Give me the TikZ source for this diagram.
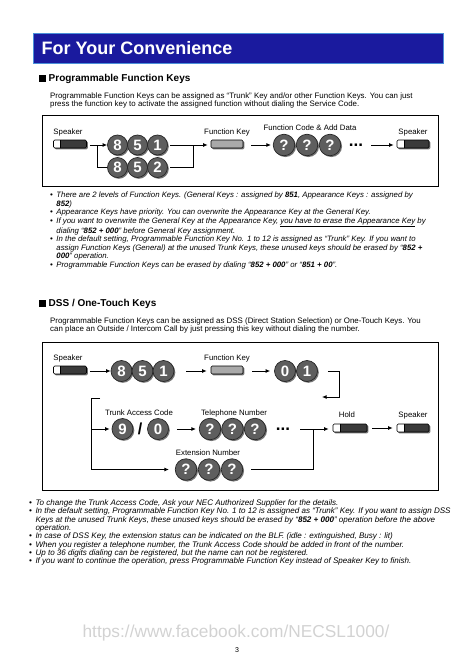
\documentclass[tikz,border=0pt]{standalone}
\usepackage{fontspec}
\setmainfont{Liberation Sans}
\usetikzlibrary{arrows.meta, positioning, shadows, calc}
\definecolor{barblue}{HTML}{1A1A9E}
\definecolor{baredge}{HTML}{4A90D9}
\definecolor{keydark}{HTML}{3A3A3A}
\definecolor{keygray}{HTML}{A9A9A9}
\definecolor{btngray}{HTML}{5E5E5E}
\definecolor{urlgray}{HTML}{D2D2D2}
\begin{document}
\begin{tikzpicture}[x=1pt, y=-1pt,
    every node/.style={inner sep=0pt},
    lbl/.style={font=\fontsize{7.8}{8}\selectfont, anchor=base},
    body/.style={font=\fontsize{7.9}{8.1}\selectfont, align=left, anchor=north west},
    notes/.style={font=\fontsize{7.8}{8.6}\selectfont\itshape, anchor=north west},
    frame/.style={draw, line width=1.1pt, anchor=north west},
    keyshadow/.style={drop shadow={shadow xshift=1.3pt, shadow yshift=-1.3pt,
                      opacity=0.55, fill=black}},
    spkkey/.style={draw, line width=0.6pt, fill=keydark, rounded corners=1.2pt,
                   minimum width=33pt, minimum height=8pt, keyshadow,
                   path picture={\fill[white, sharp corners]
                     (path picture bounding box.south west) rectangle
                     ([xshift=7pt]path picture bounding box.north west);
                     \draw[line width=0.5pt, sharp corners]
                     ([xshift=7pt]path picture bounding box.south west) --
                     ([xshift=7pt]path picture bounding box.north west);}},
    fnkey/.style={draw, line width=0.6pt, fill=keygray, rounded corners=1.2pt,
                  minimum width=32pt, minimum height=8pt, keyshadow},
    digit/.style={circle, draw=black!85, line width=0.7pt, fill=btngray, text=white,
                  font=\fontsize{15}{15}\selectfont\bfseries, minimum size=20pt, keyshadow},
    qdigit/.style={digit, minimum size=21.5pt},
    dots/.style={font=\fontsize{17}{17}\selectfont\bfseries},
    arr/.style={-{Latex[length=4.5pt, width=4pt]}, line width=0.9pt},
    link/.style={line width=0.9pt},
]
\useasboundingbox (0,0) rectangle (474,672);

% Title bar
\node[fill=barblue, draw=baredge, line width=1.5pt, minimum width=410pt,
      minimum height=30pt, anchor=north west] (bar) at (32.5,32.5) {};
\node[font=\fontsize{18}{18}\selectfont\bfseries, text=white, anchor=west]
    (title) at ([xshift=9pt]bar.west) {For Your Convenience};

% Programmable Function Keys
\node[font=\fontsize{10}{10}\selectfont\bfseries, anchor=base west] (head1)
    at (39,81.5) {\rule{6.5pt}{6.5pt}\hspace{3pt}Programmable Function Keys};
\node[body] (para1) at (50,92.5)
    {Programmable Function Keys can be assigned as “Trunk” Key and/or other Function Keys. You can just\\
     press the function key to activate the assigned function without dialing the Service Code.};

\node[frame, minimum width=396pt, minimum height=71pt] (box1) at (42,115) {};

% first row: speaker, 851 / 852, function key, code, speaker
\node[spkkey] (spk1) at (70,144) {};
\node[lbl] (spk1l) at (68,134.5) {Speaker};
\node[digit] (a8) at (117.5,145) {8};
\node[digit] (a5) at (137.5,145) {5};
\node[digit] (a1) at (157.5,145) {1};
\node[digit] (b8) at (117.5,167.5) {8};
\node[digit] (b5) at (137.5,167.5) {5};
\node[digit] (b2) at (157.5,167.5) {2};
\node[fnkey] (fk1) at (227,144) {};
\node[lbl] (fk1l) at (227,134.5) {Function Key};
\node[qdigit] (q1) at (284,145) {?};
\node[qdigit] (q2) at (307,145) {?};
\node[qdigit] (q3) at (330,145) {?};
\node[lbl] (fcl) at (310,130.5) {Function Code \& Add Data};
\node[dots] (d1) at (356,145) {...};
\node[spkkey, minimum width=32pt] (spk1b) at (413,144) {};
\node[lbl] (spk1bl) at (413,134.5) {Speaker};

\coordinate (j1) at (97,145);
\coordinate (j2) at (193,145);
\draw[arr, shorten <=3pt] (spk1.east |- j1) -- (a8.west);
\draw[link] (j1) |- (b8.west);
\draw[arr, shorten <=2.5pt, shorten >=3pt] (a1.east) -- (fk1.west |- a1);
\draw[link, shorten <=2.5pt] (b2.east) -| (j2);
\draw[arr, shorten <=8pt, shorten >=2pt] (fk1.east |- q1) -- (q1.west);
\draw[arr, shorten <=8pt, shorten >=3pt] (d1.east) -- (spk1b.west |- d1);

% Notes on function keys
\node[notes] (notes1) at (50,191.5) {\begin{tabular}{@{}l@{\hspace{3.5pt}}l@{}}
\textbullet & There are 2 levels of Function Keys. (General Keys : assigned by \textbf{851}, Appearance Keys : assigned by\\
 & \textbf{852})\\
\textbullet & Appearance Keys have priority. You can overwrite the Appearance Key at the General Key.\\
\textbullet & If you want to overwrite the General Key at the Appearance Key, \underline{you have to erase the Appearance Key} by\\
 & dialing “\textbf{852 + 000}” before General Key assignment.\\
\textbullet & In the default setting, Programmable Function Key No. 1 to 12 is assigned as “Trunk” Key. If you want to\\
 & assign Function Keys (General) at the unused Trunk Keys, these unused keys should be erased by “\textbf{852 +}\\
 & \textbf{000}” operation.\\
\textbullet & Programmable Function Keys can be erased by dialing “\textbf{852 + 000}” or “\textbf{851 + 00}”.
\end{tabular}};

% DSS / One-Touch Keys
\node[font=\fontsize{10}{10}\selectfont\bfseries, anchor=base west] (head2)
    at (39,306.5) {\rule{6.5pt}{6.5pt}\hspace{3pt}DSS / One-Touch Keys};
\node[body] (para2) at (50,317.5)
    {Programmable Function Keys can be assigned as DSS (Direct Station Selection) or One-Touch Keys. You\\
     can place an Outside / Intercom Call by just pressing this key without dialing the number.};

\node[frame, minimum width=396pt, minimum height=148pt] (box2) at (42,342) {};

% upper row
\node[spkkey] (spk2) at (70,370) {};
\node[lbl] (spk2l) at (68,360) {Speaker};
\node[digit, minimum size=21pt] (c8) at (121.5,371) {8};
\node[digit, minimum size=21pt] (c5) at (142.5,371) {5};
\node[digit, minimum size=21pt] (c1) at (163.5,371) {1};
\node[fnkey] (fk2) at (227,370) {};
\node[lbl] (fk2l) at (227,360) {Function Key};
\node[digit, minimum size=21pt] (o0) at (285,371) {0};
\node[digit, minimum size=21pt] (o1) at (307,371) {1};

\coordinate (j3) at (339,371);
\coordinate (e1) at (322,397);
\draw[arr, shorten <=3pt] (spk2.east |- c8) -- (c8.west);
\draw[arr, shorten <=12pt, shorten >=4pt] (c1.east) -- (fk2.west |- c1);
\draw[arr, shorten <=9pt, shorten >=4pt] (fk2.east |- o0) -- (o0.west);
\draw[arr, shorten <=10pt] (o1.east) -- (j3) |- (e1);

% trunk row
\node[lbl] (tacl) at (139,415.5) {Trunk Access Code};
\node[digit, minimum size=21pt] (t9) at (122.5,429) {9};
\node[font=\fontsize{16}{16}\selectfont\bfseries] (slash) at (140,429) {/};
\node[digit, minimum size=21pt] (t0) at (158,429) {0};
\node[lbl] (tell) at (234,415.5) {Telephone Number};
\node[qdigit] (p1) at (210,429) {?};
\node[qdigit] (p2) at (232.5,429) {?};
\node[qdigit] (p3) at (255,429) {?};
\node[dots] (d2) at (283,429) {...};
\node[spkkey, minimum width=34pt] (hold) at (350,428) {};
\node[lbl] (holdl) at (347,417) {Hold};
\node[spkkey, minimum width=32pt] (spk3) at (413,428) {};
\node[lbl] (spk3l) at (413,417) {Speaker};

% extension row
\node[lbl] (extl) at (208,455.5) {Extension Number};
\node[qdigit] (x1) at (186,469.5) {?};
\node[qdigit] (x2) at (209,469.5) {?};
\node[qdigit] (x3) at (232,469.5) {?};

\coordinate (s1) at (100,398);
\coordinate (j4) at (91,398);
\coordinate (j5) at (91,429);
\coordinate (j6) at (91,469.5);
\coordinate (j7) at (313,429);
\draw[link] (s1) -- (j4) -- (j6);
\draw[arr, shorten >=2pt] (j5) -- (t9.west);
\draw[arr, shorten >=6pt] (j6) -- (x1.west);
\draw[arr, shorten <=8pt, shorten >=3pt] (t0.east) -- (p1.west);
\draw[arr, shorten <=10pt, shorten >=4pt] (d2.east) -- (hold.west |- d2);
\draw[link, shorten <=8pt] (x3.east) -| (j7);
\draw[arr, shorten <=5pt, shorten >=4pt] (hold.east) -- (spk3.west);

% Notes on DSS keys
\node[notes, font=\fontsize{8.05}{8.3}\selectfont\itshape] (notes2) at (29,499.5)
{\begin{tabular}{@{}l@{\hspace{3.5pt}}l@{}}
\textbullet & To change the Trunk Access Code, Ask your NEC Authorized Supplier for the details.\\
\textbullet & In the default setting, Programmable Function Key No. 1 to 12 is assigned as “Trunk” Key. If you want to assign DSS\\
 & Keys at the unused Trunk Keys, these unused keys should be erased by “\textbf{852 + 000}” operation before the above\\
 & operation.\\
\textbullet & In case of DSS Key, the extension status can be indicated on the BLF. (idle : extinguished, Busy : lit)\\
\textbullet & When you register a telephone number, the Trunk Access Code should be added in front of the number.\\
\textbullet & Up to 36 digits dialing can be registered, but the name can not be registered.\\
\textbullet & If you want to continue the operation, press Programmable Function Key instead of Speaker Key to finish.
\end{tabular}};

% Footer
\node[font=\fontsize{17.3}{17.3}\selectfont, text=urlgray] (url) at (236,633)
    {https://www.facebook.com/NECSL1000/};
\node[font=\fontsize{7}{7}\selectfont] (pageno) at (237,650) {3};
\end{tikzpicture}
\end{document}
